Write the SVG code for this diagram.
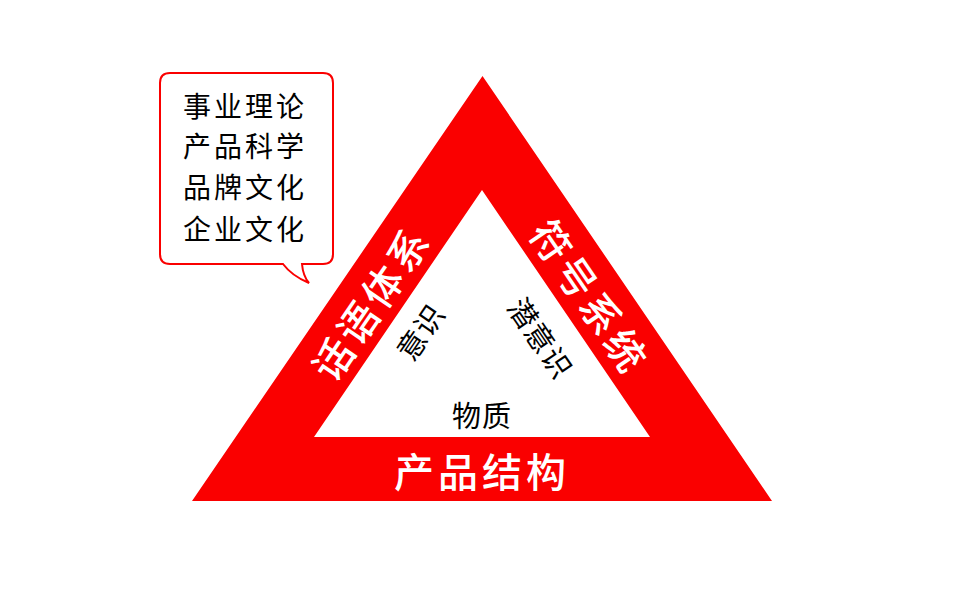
<svg xmlns="http://www.w3.org/2000/svg" width="972" height="597" viewBox="0 0 972 597">
<style>
.w{font-family:"Noto Sans CJK SC","Noto Sans",sans-serif;font-weight:500;fill:#fff;font-size:40px;text-anchor:middle;dominant-baseline:central;letter-spacing:4px}
.k{font-family:"Noto Sans CJK SC","Noto Sans",sans-serif;fill:#000;font-size:29px;text-anchor:middle;dominant-baseline:central;letter-spacing:1px}
.b{font-family:"Noto Sans CJK SC","Noto Sans",sans-serif;fill:#000;font-size:28px;letter-spacing:3px}
</style>
<rect width="972" height="597" fill="#fff"/>
<g id="triangle">
<path d="M482.5 76 L772 501 L192 501 Z M482 190 L314 437 L650 437 Z" fill="#FA0000" fill-rule="evenodd"/>
</g>
<g id="bubble">
<path d="M170 73 H323 Q333 73 333 83 V254 Q333 264 323 264 H302 Q303 276 309 283 Q292 276 283 264 H170 Q160 264 160 254 V83 Q160 73 170 73 Z" fill="#fff" stroke="#FA0000" stroke-width="2"/>
<text class="b" x="183" y="117">事业理论</text>
<text class="b" x="183" y="157">产品科学</text>
<text class="b" x="183" y="198">品牌文化</text>
<text class="b" x="183" y="240">企业文化</text>
</g>
<g id="left-side"><text class="w" transform="translate(370,302) rotate(-55.7)">话语体系</text></g>
<g id="right-side"><text class="w" transform="translate(591,296) rotate(55.7)">符号系统</text></g>
<g id="bottom-side"><text class="w" x="482" y="470">产品结构</text></g>
<g id="inner-left"><text class="k" transform="translate(419,331) rotate(-55.7)">意识</text></g>
<g id="inner-right"><text class="k" transform="translate(542,337) rotate(55.7)">潜意识</text></g>
<g id="inner-bottom"><text class="k" x="482" y="414">物质</text></g>
<g id="connectors"/>
</svg>
